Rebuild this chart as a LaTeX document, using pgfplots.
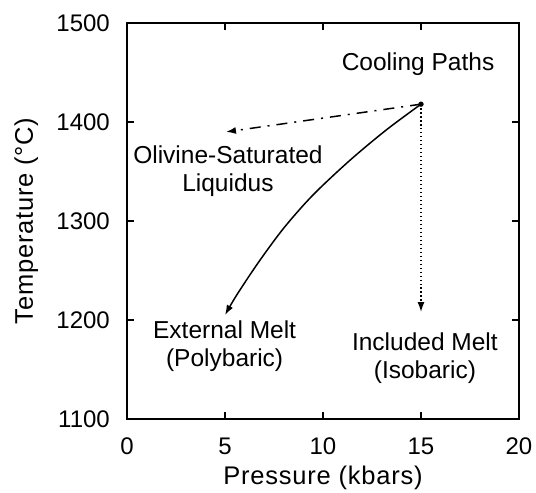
\documentclass[border=0pt]{standalone}
\usepackage{pgfplots}
\pgfplotsset{compat=1.18}
\usepackage{fontspec}
\setmainfont{Liberation Sans}
\usetikzlibrary{arrows.meta}
\begin{document}
\fontsize{24bp}{29bp}\selectfont
\begin{tikzpicture}
\path[use as bounding box] (-127bp,-74bp) rectangle (409bp,419bp);
\begin{axis}[
  at={(0,0)}, anchor=south west,
  width=392bp, height=396bp, scale only axis,
  xmin=0, xmax=20, ymin=1100, ymax=1500,
  xtick={0,5,10,15,20}, ytick={1100,1200,1300,1400,1500},
  tick align=inside, major tick length=7bp,
  axis line style={line width=1.3pt},
  every tick/.style={line width=1.2pt, black},
  /pgf/number format/assume math mode=true,
  /pgf/number format/1000 sep={},
  ticklabel style={font=\fontsize{24bp}{29bp}\selectfont},
  xticklabel style={yshift=-11bp},
  yticklabel style={xshift=-9bp},
  label style={font=\fontsize{25.5bp}{30bp}\selectfont\addfontfeatures{LetterSpace=3}},
  xlabel={Pressure (kbars)}, ylabel={Temperature (°C)},
  xlabel style={yshift=5bp},
  ylabel style={yshift=2bp},
  clip=false,
]
\addplot[black, line width=1.5pt, smooth, tension=0.5, -{Latex[length=10bp,width=7bp]}] coordinates {
 (15.0,1418) (13.23,1392) (11.39,1361.6) (9.49,1326.3) (8.0,1292.9) (6.72,1258.6) (5.6,1225.3) (5.0,1205)
};
\addplot[black, line width=1.5pt, dash pattern=on 11bp off 7bp on 2bp off 7bp, -{Latex[length=10bp,width=7bp]}] coordinates {
 (15,1418) (5.05,1390)
};
\addplot[black, line width=1.5pt, dash pattern=on 1.4pt off 2.6pt, -{Latex[length=10bp,width=7bp]}] coordinates {
 (15,1418) (15,1208)
};
\addplot[black, only marks, mark=*, mark size=2.4bp] coordinates {(15,1418)};
\begin{scope}[every node/.style={font=\fontsize{24.5bp}{28bp}\selectfont, align=center}]
\node at (axis cs:14.85,1458) {Cooling Paths};
\node at (axis cs:5.15,1350) {Olivine-Saturated\\Liquidus};
\node at (axis cs:4.98,1174) {External Melt\\(Polybaric)};
\node at (axis cs:15.2,1161) {Included Melt\\(Isobaric)};
\end{scope}
\end{axis}
\end{tikzpicture}
\end{document}
